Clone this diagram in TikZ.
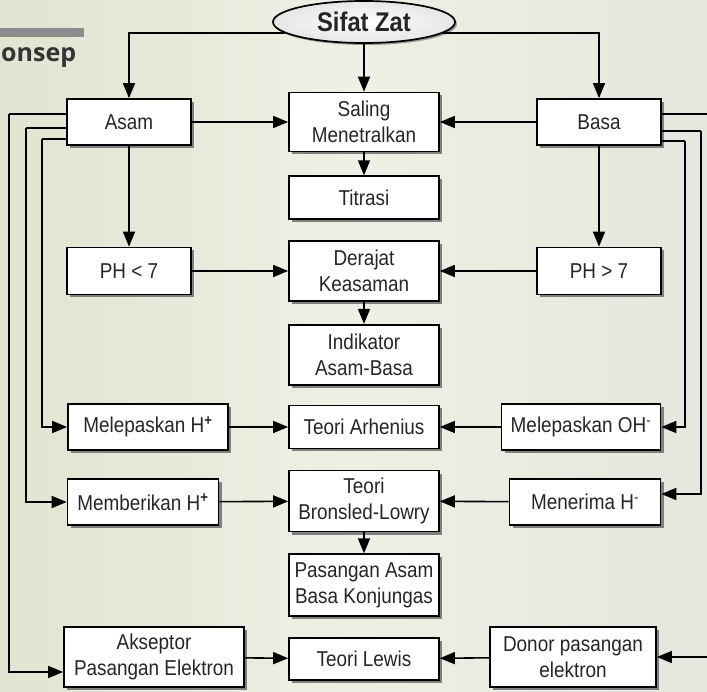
\documentclass[tikz,border=0pt]{standalone}
\usepackage{fontspec}
\setmainfont{Liberation Sans}[FakeStretch=0.88]
\newfontfamily\headfont{Open Sans}
\usetikzlibrary{positioning,arrows.meta,calc,shapes.geometric,shadows}
\definecolor{bgleft}{RGB}{224,228,208}
\definecolor{bgmid}{RGB}{238,240,229}
\definecolor{bgright}{RGB}{229,231,222}

\begin{document}
\begin{tikzpicture}[
  x=1pt, y=-1pt,
  font=\fontsize{21.5}{26}\selectfont,
  >={Triangle[length=15pt,width=12pt]},
  node distance=22pt,
  box/.style={draw, line width=1.7pt, fill=white, align=center, inner sep=2pt, text=black!85,
    drop shadow={shadow xshift=3pt, shadow yshift=-3pt, fill=black!50, opacity=1}},
  side/.style={box, minimum width=124pt, minimum height=46pt},
  mid/.style={box, minimum width=150pt},
  link/.style={->, line width=1.6pt},
  wire/.style={line width=1.6pt},
]

% background
\shade[left color=bgleft, right color=bgright, middle color=bgmid] (0,0) rectangle (707,692);
\useasboundingbox (0,0) rectangle (707,692);

% heading remains
\fill[black!45] (0,28) rectangle (84,37);
\node[anchor=base west, inner sep=0, text=black!80, font=\headfont\bfseries\fontsize{25}{28}\selectfont] (konsep) at (1,62) {onsep};

% top
\node[ellipse, draw, line width=1.7pt, minimum width=182pt, minimum height=42pt, inner color=white, outer color=black!10,
      drop shadow={shadow xshift=2pt, shadow yshift=-2pt, fill=black!40, opacity=1},
      font=\bfseries\fontsize{27}{30}\selectfont, text=black!85] (sifat) at (364,22) {Sifat Zat};

% acid and base columns
\node[side] (asam) at (129,122) {Asam};
\node[side] (basa) at (599,122) {Basa};
\node[side, minimum height=47pt] (phasam) at (129,271) {PH < 7};
\node[side, minimum height=47pt] (phbasa) at (599,271) {PH > 7};

% centre column
\node[mid, minimum height=59pt] (saling) at (364,122) {Saling\\Menetralkan};
\node[mid, minimum height=43pt, below=23pt of saling] (titrasi) {Titrasi};
\node[mid, minimum height=60pt] (derajat) at (364,271) {Derajat\\Keasaman};
\node[mid, minimum height=60pt, below=22pt of derajat] (indikator) {Indikator\\Asam-Basa};
\node[mid, minimum height=43pt] (arhenius) at (364,427) {Teori Arhenius};
\node[mid, minimum height=61pt] (bronsled) at (364,501) {Teori\\Bronsled-Lowry};
\node[mid, minimum height=62pt, below=21pt of bronsled] (pasangan) {Pasangan Asam\\Basa Konjungas};
\node[mid, minimum height=42pt] (lewis) at (364,659) {Teori Lewis};

% theory inputs
\node[box, minimum width=160pt, minimum height=46pt] (lepasH) at (148,427) {Melepaskan H\textsuperscript{\textbf{+}}};
\node[box, minimum width=159pt, minimum height=46pt] (lepasOH) at (581,427) {Melepaskan OH\textsuperscript{-}};
\node[box, minimum width=151pt, minimum height=46pt] (beriH) at (143,502) {Memberikan H\textsuperscript{\textbf{+}}};
\node[box, minimum width=151pt, minimum height=46pt] (terimaH) at (585,502) {Menerima H\textsuperscript{-}};
\node[box, minimum width=180pt, minimum height=60pt] (akseptor) at (154,657) {Akseptor\\Pasangan Elektron};
\node[box, minimum width=166pt, minimum height=60pt] (donor) at (573,657) {Donor pasangan\\elektron};

% from Sifat Zat
\draw[link] (sifat.188) -| (asam.north);
\draw[link] (sifat.-8) -| (basa.north);
\draw[link] (sifat.south) -- (saling.north);

% downward links
\draw[link] (asam) -- (phasam);
\draw[link] (basa) -- (phbasa);
\draw[link] (saling) -- (titrasi);
\draw[link] (derajat) -- (indikator);
\draw[link] (bronsled) -- (pasangan);

% into the centre column
\draw[link] (asam) -- (saling);
\draw[link] (basa) -- (saling);
\draw[link] (phasam) -- (derajat);
\draw[link] (phbasa) -- (derajat);
\draw[link] (lepasH) -- (arhenius);
\draw[link] (lepasOH) -- (arhenius);
\draw[link] (beriH) -- (bronsled);
\draw[link] (terimaH) -- (bronsled);
\draw[link] (akseptor) -- (lewis);
\draw[link] (donor) -- (lewis);

% side lines from Asam
\coordinate (l1) at (9,114);
\coordinate (l2) at (26,128);
\coordinate (l3) at (42,139);
\draw[wire] (asam.west |- l1) -- (l1);
\draw[link] (l1) |- ([yshift=-15pt]akseptor.west);
\draw[wire] (asam.west |- l2) -- (l2);
\draw[link] (l2) |- (beriH.west);
\draw[wire] (asam.west |- l3) -- (l3);
\draw[link] (l3) |- (lepasH.west);

% side lines from Basa
\coordinate (r1) at (712,114);
\coordinate (r2) at (701,131);
\coordinate (r3) at (685,141);
\draw[wire] (basa.east |- r1) -- (r1);
\draw[link] (r1) |- (donor.east);
\draw[wire] (basa.east |- r2) -- (r2);
\draw[link] (r2) |- ([yshift=8pt]terimaH.east);
\draw[wire] (basa.east |- r3) -- (r3);
\draw[link] (r3) |- (lepasOH.east);

\end{tikzpicture}
\end{document}
